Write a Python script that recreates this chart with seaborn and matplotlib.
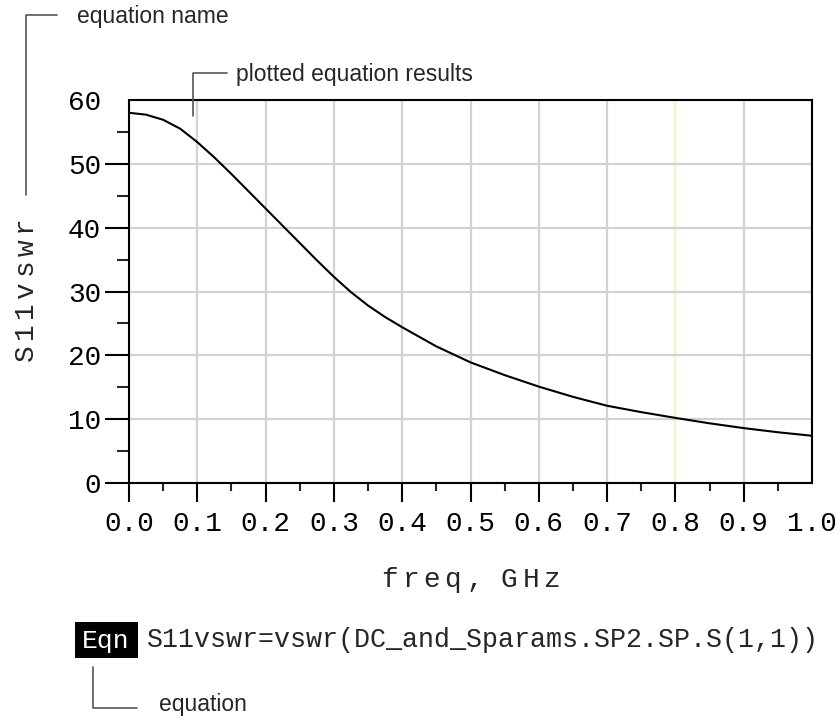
import numpy as np
import seaborn as sns
import matplotlib
matplotlib.use("Agg")
import matplotlib.pyplot as plt
from matplotlib.lines import Line2D
from matplotlib.patches import Rectangle
from matplotlib.ticker import MultipleLocator, FuncFormatter

# S11 vswr vs frequency
freq_ghz = [0.0, 0.025, 0.05, 0.075, 0.1, 0.125, 0.15, 0.175, 0.2, 0.225, 0.25, 0.275,
            0.3, 0.325, 0.35, 0.375, 0.4, 0.45, 0.5, 0.55, 0.6, 0.65, 0.7, 0.75, 0.8,
            0.85, 0.9, 0.95, 1.0]
s11_vswr = [58.0, 57.7, 56.9, 55.5, 53.4, 51.0, 48.4, 45.7, 43.0, 40.3, 37.6, 34.9,
            32.3, 29.9, 27.8, 26.0, 24.4, 21.4, 18.9, 16.9, 15.1, 13.5, 12.1, 11.1, 10.2,
            9.35, 8.6, 7.95, 7.4]
x_ticks = [0.0, 0.1, 0.2, 0.3, 0.4, 0.5, 0.6, 0.7, 0.8, 0.9, 1.0]
y_ticks = [0, 10, 20, 30, 40, 50, 60]

equation_text = "S11vswr=vswr(DC_and_Sparams.SP2.SP.S(1,1))"

sns.set_style("white")
mono = ['Liberation Mono', 'DejaVu Sans Mono']
sans = ['Liberation Sans', 'DejaVu Sans']
plt.rcParams['font.family'] = mono
plt.rcParams['mathtext.fontset'] = 'custom'
plt.rcParams['mathtext.rm'] = 'Liberation Mono'
plt.rcParams['mathtext.it'] = 'Liberation Mono'
plt.rcParams['mathtext.bf'] = 'Liberation Mono:bold'
plt.rcParams['mathtext.default'] = 'rm'


def spaced(s, gap=r"\;"):
    # axis titles in ADS have extra letter spacing; mathtext kerns give it
    chars = [r"\ " if c == " " else c for c in s]
    return "$" + gap.join(chars) + "$"


W, H = 838, 719
fig = plt.figure(figsize=(W / 100, H / 100), dpi=100)
ax = fig.add_axes([129 / W, 1 - 483 / H, 683 / W, 383 / H])

sns.lineplot(x=freq_ghz, y=s11_vswr, color="black", linewidth=1.5, ax=ax)

ax.set_xlim(0, 1)
ax.set_ylim(0, 60)
ax.set_xticks(x_ticks)
ax.set_yticks(y_ticks)
ax.xaxis.set_minor_locator(MultipleLocator(0.05))
ax.yaxis.set_minor_locator(MultipleLocator(5))
ax.xaxis.set_major_formatter(FuncFormatter(lambda v, p: f"{v:.1f}"))
ax.yaxis.set_major_formatter(FuncFormatter(lambda v, p: f"{v:.0f}"))

ax.grid(True, which="major", color="#d2d2d2", linewidth=1.6)
ax.get_xgridlines()[8].set_color("#f4f4c8")
for s in ax.spines.values():
    s.set_color("black")
    s.set_linewidth(1.5)

ax.tick_params(axis="x", which="major", direction="out", length=14, width=1.5,
               pad=6, labelsize=20, colors="black")
ax.tick_params(axis="x", which="minor", direction="out", length=6, width=1.5)
ax.tick_params(axis="y", which="major", direction="out", length=17, width=1.5,
               pad=3, labelsize=20, colors="black")
ax.tick_params(axis="y", which="minor", direction="out", length=9, width=1.5)
ax.tick_params(which="both", bottom=True, left=True)
# ADS leaves no tick mark at the far end of each axis
ax.xaxis.get_major_ticks()[-1].tick1line.set_visible(False)
ax.yaxis.get_major_ticks()[-1].tick1line.set_visible(False)

ax.set_xlabel(spaced("freq, GHz"), fontsize=20)
ax.xaxis.set_label_coords(0.5, -0.253)
ax.xaxis.label.set_va("center")
ax.set_ylabel(spaced("S11vswr"), fontsize=20)
ax.yaxis.set_label_coords(-0.149, 0.5)
ax.yaxis.label.set_va("center")


def fx(px):
    return px / W


def fy(py):
    return 1 - py / H


def bracket(points):
    xs = [fx(p[0]) for p in points]
    ys = [fy(p[1]) for p in points]
    fig.add_artist(Line2D(xs, ys, transform=fig.transFigure, color="#555555", linewidth=1.2))


# "equation name" callout
bracket([(57, 15), (26, 15), (26, 195)])
fig.text(fx(77), fy(17), "equation name", fontsize=16.5, family=sans, va="center", ha="left")

# "plotted equation results" callout
bracket([(227, 73), (193, 73), (193, 116)])
fig.text(fx(236), fy(74), "plotted equation results", fontsize=16.5, family=sans,
         va="center", ha="left")

# equation line with Eqn badge
fig.add_artist(Rectangle((fx(75), fy(658)), 63 / W, 36 / H, transform=fig.transFigure,
                         facecolor="black", edgecolor="none"))
fig.text(fx(106), fy(641), "Eqn", fontsize=19, color="white", ha="center", va="center")
fig.text(fx(147), fy(640), equation_text, fontsize=19.2, ha="left", va="center")

# "equation" callout
bracket([(93, 667), (93, 708), (137, 708)])
fig.text(fx(159), fy(705), "equation", fontsize=16.5, family=sans, va="center", ha="left")

fig.savefig("out.png", dpi=100)
